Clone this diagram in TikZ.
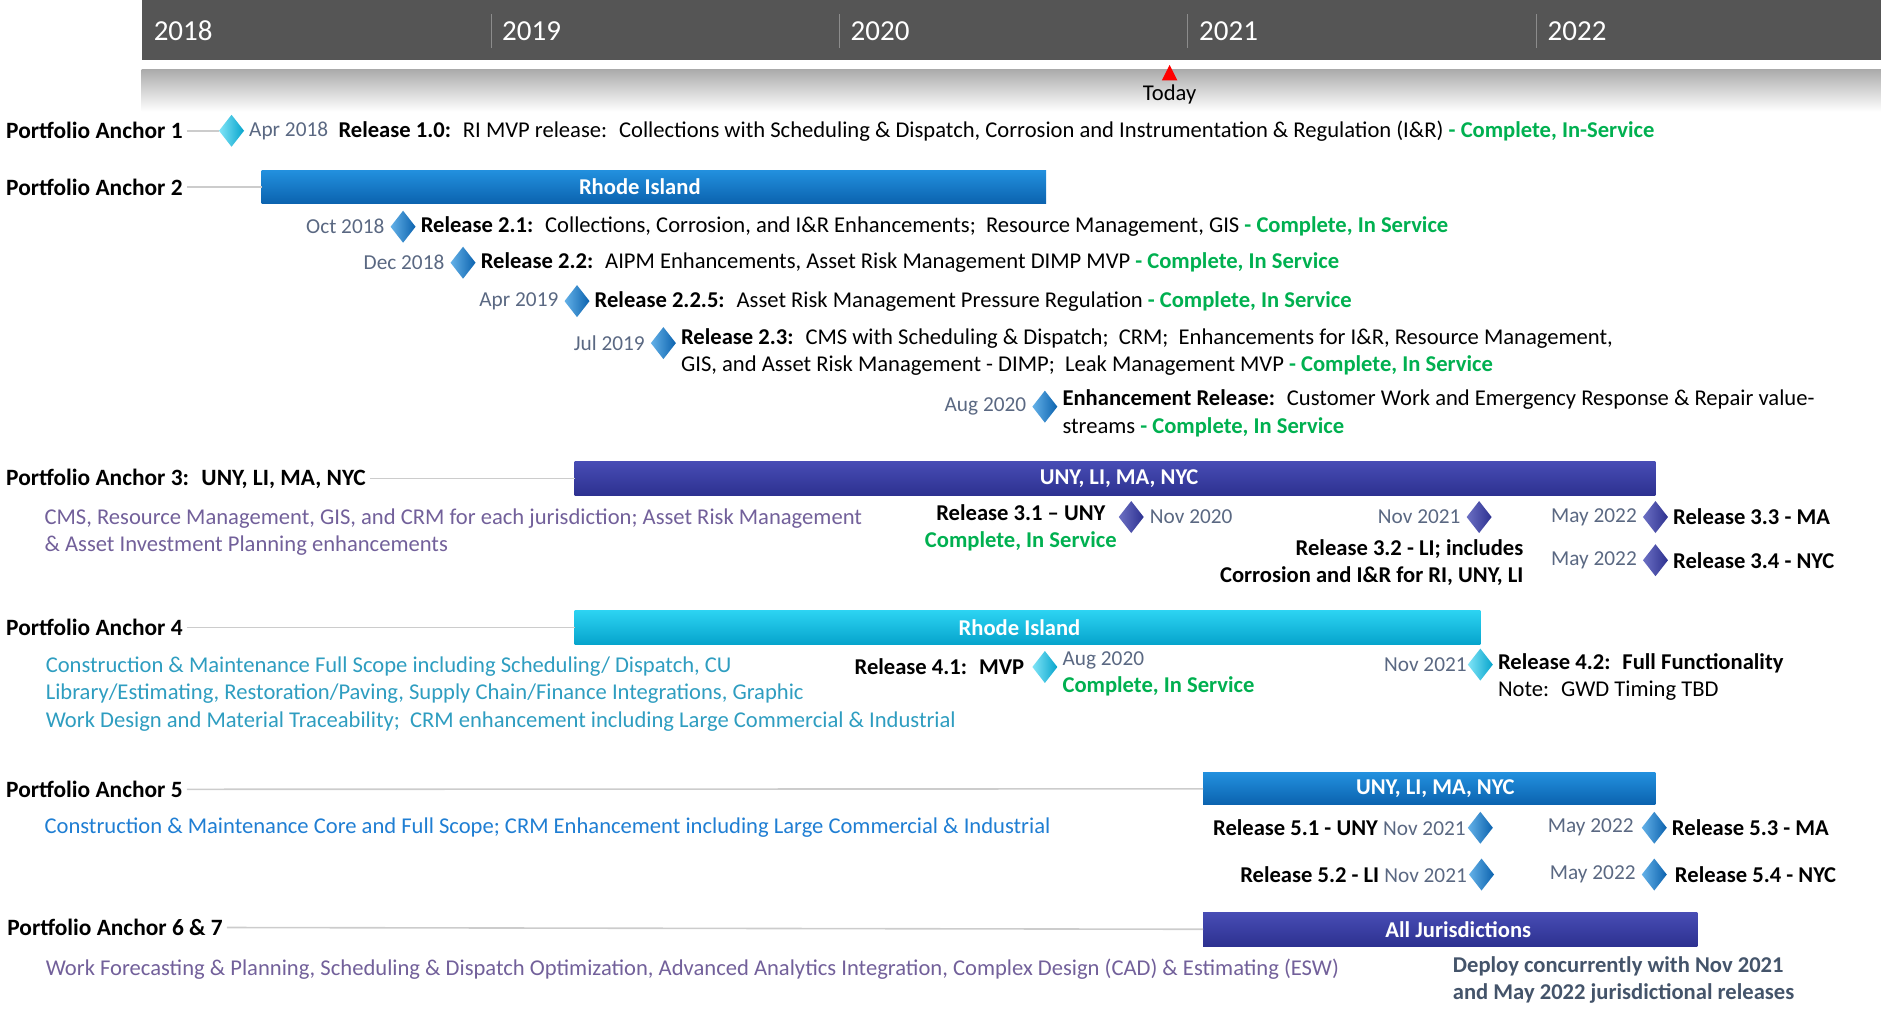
\documentclass[tikz,border=0pt]{standalone}
\usepackage{fontspec}
\setmainfont{Carlito}
\usetikzlibrary{shapes.geometric,fit,positioning}

\definecolor{hdrgray}{HTML}{555555}
\definecolor{sepgray}{HTML}{8C8C8C}
\definecolor{bandgray}{HTML}{ABABAB}
\definecolor{leadgray}{HTML}{CCCCCC}
\definecolor{todayred}{HTML}{FF0000}
\definecolor{okgreen}{HTML}{00B050}
\definecolor{datecol}{HTML}{5A6882}
\definecolor{descpurple}{HTML}{72609A}
\definecolor{descteal}{HTML}{2E9DC0}
\definecolor{descblue}{HTML}{1F7ED3}
\definecolor{slate}{HTML}{44546A}
\definecolor{bluetop}{HTML}{2290DE}
\definecolor{bluebot}{HTML}{0B62AE}
\definecolor{indtop}{HTML}{474CB4}
\definecolor{indbot}{HTML}{2D3190}
\definecolor{cyantop}{HTML}{2CD3F2}
\definecolor{cyanbot}{HTML}{06A4CC}

\newcommand{\inservice}{\textcolor{okgreen}{\textbf{- Complete, In Service}}}
\newcommand{\datefont}{\fontsize{21.3}{26}\selectfont}

\tikzset{
  anchorlbl/.style={font=\fontsize{23.4}{28}\selectfont\bfseries, anchor=west, inner sep=0pt},
  datelbl/.style={text=datecol, inner sep=0pt, font=\datefont},
  desc/.style={anchor=west, inner sep=0pt, align=left},
  yearlbl/.style={text=white, anchor=west, inner sep=0pt, font=\fontsize{29}{31}\selectfont},
  leader/.style={draw=leadgray, line width=1.6pt, shorten <=4pt},
  bar/.style={inner sep=0pt, outer sep=0pt},
  bartext/.style={text=white, font=\bfseries, inner sep=0pt},
  barblue/.style={bar, top color=bluetop, bottom color=bluebot},
  barind/.style={bar, top color=indtop, bottom color=indbot},
  barcyan/.style={bar, top color=cyantop, bottom color=cyanbot},
  ms/.style={diamond, minimum width=25pt, minimum height=32pt, inner sep=0pt, outer sep=0pt},
  msblue/.style={ms, left color=bluetop!70!white, right color=bluebot},
  msind/.style={ms, left color=indtop!80!white, right color=indbot},
  mscyan/.style={ms, left color=cyantop!60!white, right color=cyanbot},
}

\begin{document}
\fontsize{22.6}{27.6}\selectfont
\begin{tikzpicture}[x=1.2pt, y=-1.2pt]
\useasboundingbox (0,0) rectangle (1568,845);
% header
\fill[hdrgray] (118,0) rectangle (1568,50);
\shade[top color=bandgray, bottom color=white] (118,58) rectangle (1568,93);
\foreach \x in {410,700,990,1281}
  \draw[sepgray, line width=1pt] (\x,12) -- (\x,40);
\foreach \yr [count=\i from 0] in {2018,2019,2020,2021,2022}
  \node[yearlbl] (y\yr) at (128+290.5*\i,26) {\yr};
\fill[todayred] (975,54) -- (968.5,67) -- (981.5,67) -- cycle;
\node[inner sep=0pt] (today) at (975,79) {Today};

% anchor 1
\node[anchorlbl] (pa1) at (5,109) {Portfolio Anchor 1};
\node[mscyan] (m10) at (193,109) {};
\node[datelbl, right=5pt of m10] (d10) {Apr 2018};
\node[desc, right=10pt of d10] (r10) {\textbf{Release 1.0:}~ RI MVP release:~ Collections with Scheduling \& Dispatch, Corrosion and Instrumentation \& Regulation (I\&R) \textcolor{okgreen}{\textbf{- Complete, In-Service}}};
\draw[leader] (pa1) -- (m10);

% anchor 2
\node[anchorlbl] (pa2) at (5,156) {Portfolio Anchor 2};
\node[barblue, fit={(218,142) (872,170)}, label={[bartext, xshift=-14pt]center:Rhode Island}] (bar2) {};
\draw[leader] (pa2) -- (bar2);
\node[msblue] (m21) at (336,189) {};
\node[datelbl, left=6pt of m21] (d21) {Oct 2018};
\node[desc, right=5pt of m21] (r21) {\textbf{Release 2.1:}~ Collections, Corrosion, and I\&R Enhancements;~ Resource Management, GIS \inservice};
\node[msblue] (m22) at (386,219) {};
\node[datelbl, left=6pt of m22] (d22) {Dec 2018};
\node[desc, right=5pt of m22] (r22) {\textbf{Release 2.2:}~ AIPM Enhancements, Asset Risk Management DIMP MVP \inservice};
\node[msblue] (m225) at (481,251) {};
\node[datelbl, left=6pt of m225] (d225) {Apr 2019};
\node[desc, right=5pt of m225] (r225) {\textbf{Release 2.2.5:}~ Asset Risk Management Pressure Regulation \inservice};
\node[msblue] (m23) at (553,286) {};
\node[datelbl, left=6pt of m23] (d23) {Jul 2019};
\node[desc, right=5pt of m23, yshift=-9pt] (r23) {\textbf{Release 2.3:}~ CMS with Scheduling \& Dispatch;~ CRM;~ Enhancements for I\&R, Resource Management,\\GIS, and Asset Risk Management - DIMP;~ Leak Management MVP \inservice};
\node[msblue] (m24) at (871,339) {};
\node[datelbl, left=6pt of m24] (d24) {Aug 2020};
\node[desc, right=5pt of m24, yshift=-6.5pt] (r24) {\textbf{Enhancement Release:}~ Customer Work and Emergency Response \& Repair value-\\streams \inservice};

% anchor 3
\node[anchorlbl] (pa3) at (5,399) {Portfolio Anchor 3:~ UNY, LI, MA, NYC};
\node[barind, fit={(479,385) (1380,413)}, label={[bartext, xshift=4pt]center:{UNY, LI, MA, NYC}}] (bar3) {};
\draw[leader] (pa3) -- (bar3);
\node[desc, text=descpurple] (t3) at (37,443.5) {CMS, Resource Management, GIS, and CRM for each jurisdiction; Asset Risk Management\\\& Asset Investment Planning enhancements};
\node[msind] (m31) at (943,431) {};
\node[inner sep=0pt, align=center, font=\bfseries] (r31) at (851,440) {Release 3.1 -- UNY\\\textcolor{okgreen}{Complete, In Service}};
\node[datelbl, right=6pt of m31] (d31) {Nov 2020};
\node[msind] (m32) at (1233,431) {};
\node[datelbl, left=6pt of m32] (d32) {Nov 2021};
\node[inner sep=0pt, align=right, font=\bfseries, anchor=east] (r32) at (1270,469) {Release 3.2 - LI; includes\\Corrosion and I\&R for RI, UNY, LI};
\node[msind] (m33) at (1380,431) {};
\node[datelbl, left=6pt of m33] (d33) {May 2022};
\node[desc, font=\bfseries, right=5pt of m33] (r33) {Release 3.3 - MA};
\node[msind] (m34) at (1380,467) {};
\node[datelbl, left=6pt of m34] (d34) {May 2022};
\node[desc, font=\bfseries, right=5pt of m34] (r34) {Release 3.4 - NYC};

% anchor 4
\node[anchorlbl] (pa4) at (5,523) {Portfolio Anchor 4};
\node[barcyan, fit={(479,509) (1234,537)}, label={[bartext, xshift=-8pt]center:Rhode Island}] (bar4) {};
\draw[leader] (pa4) -- (bar4);
\node[desc, text=descteal] (t4) at (38,578.5) {Construction \& Maintenance Full Scope including Scheduling/ Dispatch, CU\\Library/Estimating, Restoration/Paving, Supply Chain/Finance Integrations, Graphic\\Work Design and Material Traceability;~ CRM enhancement including Large Commercial \& Industrial};
\node[mscyan] (m41) at (871,556) {};
\node[inner sep=0pt, font=\bfseries, left=8pt of m41] (r41) {Release 4.1:~ MVP};
\node[desc, right=5pt of m41, yshift=-7pt] (d41) {\textcolor{datecol}{\datefont Aug 2020}\\\textcolor{okgreen}{\textbf{Complete, In Service}}};
\node[mscyan] (m42) at (1234,554) {};
\node[datelbl, left=1pt of m42] (d42) {Nov 2021};
\node[desc, right=5pt of m42, yshift=-12.5pt] (r42) {\textbf{Release 4.2:~ Full Functionality}\\Note:~ GWD Timing TBD};

% anchor 5
\node[anchorlbl] (pa5) at (5,658) {Portfolio Anchor 5};
\node[barblue, fit={(1003,644) (1380,671)}, label={[bartext, xshift=6pt]center:{UNY, LI, MA, NYC}}] (bar5) {};
\draw[leader] (pa5) -- (bar5);
\node[desc, text=descblue] (t5) at (37,690) {Construction \& Maintenance Core and Full Scope; CRM Enhancement including Large Commercial \& Industrial};
\node[msblue] (m51) at (1234,690) {};
\node[inner sep=0pt, left=2pt of m51] (r51) {\textbf{Release 5.1 - UNY} \textcolor{datecol}{\datefont Nov 2021}};
\node[msblue] (m52) at (1235,729) {};
\node[inner sep=0pt, left=2pt of m52] (r52) {\textbf{Release 5.2 - LI} \textcolor{datecol}{\datefont Nov 2021}};
\node[msblue] (m53) at (1379,690) {};
\node[datelbl, left=8pt of m53] (d53) {May 2022};
\node[desc, font=\bfseries, right=5pt of m53] (r53) {Release 5.3 - MA};
\node[msblue] (m54) at (1379,729) {};
\node[datelbl, left=6pt of m54] (d54) {May 2022};
\node[desc, font=\bfseries, right=8pt of m54] (r54) {Release 5.4 - NYC};

% anchor 6 & 7
\node[anchorlbl] (pa67) at (6,773) {Portfolio Anchor 6 \& 7};
\node[barind, fit={(1003,761) (1415,789)}, label={[bartext, xshift=8pt]center:All Jurisdictions}] (bar67) {};
\draw[leader] (pa67) -- (bar67);
\node[desc, text=descpurple] (t67) at (38,808) {Work Forecasting \& Planning, Scheduling \& Dispatch Optimization, Advanced Analytics Integration, Complex Design (CAD) \& Estimating (ESW)};
\node[desc, text=slate, font=\bfseries] (dep) at (1211,817) {Deploy concurrently with Nov 2021\\and May 2022 jurisdictional releases};
\end{tikzpicture}
\end{document}
